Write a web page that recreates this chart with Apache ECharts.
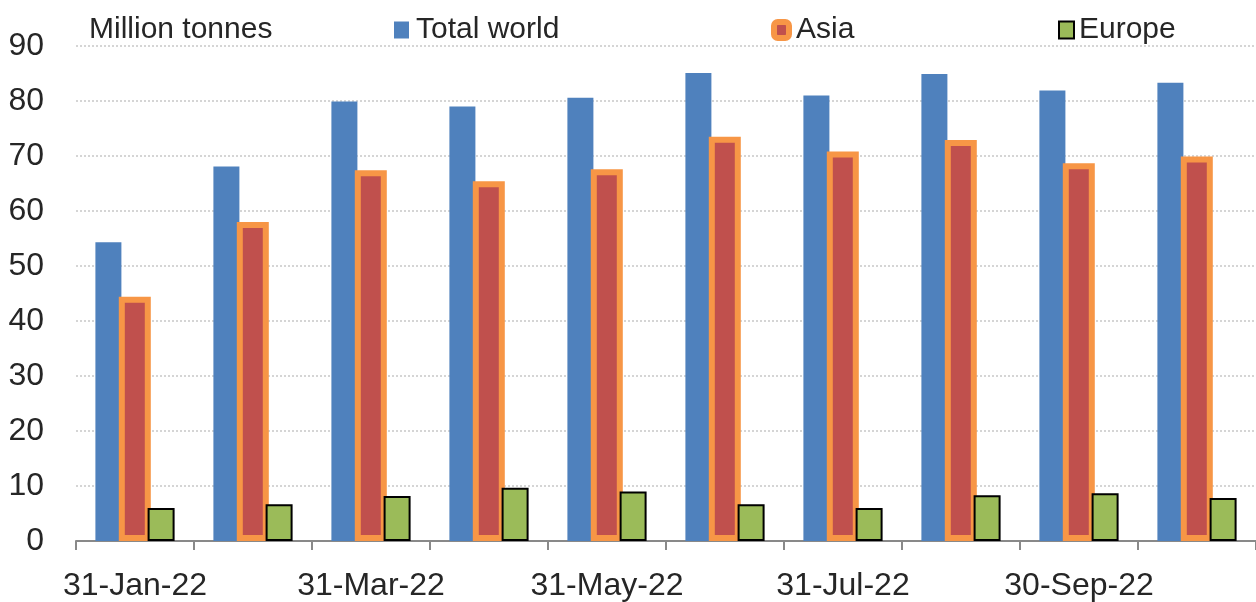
<!DOCTYPE html>
<html>
<head>
<meta charset="utf-8">
<script src="https://cdn.jsdelivr.net/npm/echarts@6/dist/echarts.min.js"></script>
<style>
html,body{margin:0;padding:0;background:#fff;}
#chart{width:1256px;height:602px;}
</style>
</head>
<body>
<div id="chart"></div>
<script>
const categories = ['31-Jan-22','28-Feb-22','31-Mar-22','30-Apr-22','31-May-22','30-Jun-22','31-Jul-22','31-Aug-22','30-Sep-22','31-Oct-22'];
const totalWorld = [54.3, 68.1, 79.9, 79.0, 80.6, 85.1, 81.0, 84.9, 81.9, 83.3];
const asia = [44.4, 58.0, 67.4, 65.4, 67.6, 73.5, 70.8, 72.9, 68.7, 69.9];
const europe = [6.0, 6.7, 8.2, 9.7, 9.0, 6.7, 6.0, 8.3, 8.7, 7.8];
const unitLabel = 'Million tonnes';

const FONT = 'Liberation Sans, Arial, sans-serif';
const TXT = '#262626';

const chart = echarts.init(document.getElementById('chart'), null, {renderer: 'canvas'});
chart.setOption({
  animation: false,
  backgroundColor: '#fff',
  title: {
    text: unitLabel, left: 89, top: 15, padding: 0,
    textStyle: {fontFamily: FONT, fontSize: 30, fontWeight: 'normal', color: TXT}
  },
  legend: [
    {data: [{name: 'Total world', icon: 'rect'}], left: 394, top: 15, padding: 0, itemWidth: 15, itemHeight: 17, itemGap: 0,
     textStyle: {fontFamily: FONT, fontSize: 30, color: TXT, padding: [0,0,0,2]}},
    {data: [{name: 'Asia', icon: 'roundRect', itemStyle: {color: '#c0504d', borderColor: '#f79646', borderWidth: 6}}],
     left: 771, top: 15, padding: 0, itemWidth: 15, itemHeight: 16, itemGap: 0,
     textStyle: {fontFamily: FONT, fontSize: 30, color: TXT, padding: [0,0,0,2]}},
    {data: [{name: 'Europe', icon: 'rect'}], left: 1058, top: 15, padding: 0, itemWidth: 15, itemHeight: 17, itemGap: 0,
     textStyle: {fontFamily: FONT, fontSize: 30, color: TXT, padding: [0,0,0,0]}}
  ],
  grid: {left: 76, top: 46, width: 1192, height: 499, containLabel: false},
  xAxis: {
    type: 'category',
    data: categories,
    axisLine: {lineStyle: {color: '#898989', width: 2}},
    axisTick: {show: true, interval: 0, length: 9, lineStyle: {color: '#898989', width: 2}},
    axisLabel: {interval: 1, margin: 29, fontFamily: FONT, fontSize: 32, color: TXT}
  },
  yAxis: {
    type: 'value', min: 0, max: 90, interval: 10,
    axisLine: {show: false}, axisTick: {show: false},
    axisLabel: {margin: 32, fontFamily: FONT, fontSize: 32, color: TXT},
    splitLine: {lineStyle: {color: '#c8c8c8', width: 1.5, type: [2, 2]}}
  },
  series: [
    {name: 'Total world', type: 'bar', data: totalWorld, barWidth: 26, barGap: '-10%',
     itemStyle: {color: '#4f81bd'}},
    {name: 'Asia', type: 'bar', data: asia, barWidth: 32, barGap: '-10%',
     itemStyle: {color: '#c0504d', borderColor: '#f79646', borderWidth: 6}},
    {name: 'Europe', type: 'bar', data: europe, barWidth: 27, barGap: '-10%',
     itemStyle: {color: '#9bbb59', borderColor: '#000', borderWidth: 2}}
  ]
});
</script>
</body>
</html>
